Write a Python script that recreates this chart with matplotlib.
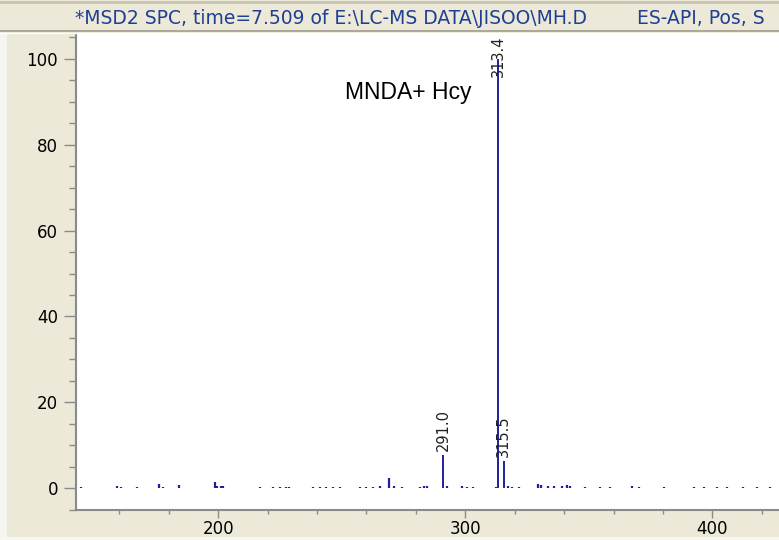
import matplotlib
matplotlib.use("Agg")
import matplotlib.pyplot as plt
from matplotlib.ticker import MultipleLocator
from matplotlib.lines import Line2D
from matplotlib.patches import Rectangle
import matplotlib.transforms as mtransforms

# ---- data ----
title_left = "*MSD2 SPC, time=7.509 of E:\\LC-MS DATA\\JISOO\\MH.D"
title_right = "ES-API, Pos, S"
annotation_text = "MNDA+ Hcy"

main_mz = [291.0, 313.4, 315.5]
main_abund = [7.7, 100.0, 6.3]
main_labels = ["291.0", "313.4", "315.5"]

noise_mz = [144.6, 158.8, 160.8, 166.9, 175.8, 177.8, 184.3, 198.5, 199.5, 201.0,
            202.0, 216.7, 222.3, 224.8, 227.6, 228.8, 238.5, 241.0, 243.8, 246.6,
            249.1, 257.2, 260.0, 262.8, 265.3, 269.3, 271.3, 274.2, 281.5, 283.1,
            284.3, 292.6, 298.5, 300.5, 303.3, 312.6, 317.4, 319.0, 321.9, 329.6,
            330.8, 333.6, 336.1, 339.0, 341.0, 342.2, 348.3, 354.4, 358.4, 367.3,
            370.2, 380.3, 392.4, 396.5, 401.7, 405.8, 412.6, 417.9, 423.2]
noise_abund = [0.3, 0.4, 0.3, 0.3, 1.0, 0.3, 0.8, 1.5, 0.4, 0.4,
               0.4, 0.3, 0.3, 0.3, 0.3, 0.3, 0.3, 0.3, 0.3, 0.3,
               0.3, 0.3, 0.3, 0.3, 0.5, 2.3, 0.6, 0.3, 0.3, 0.5,
               0.4, 0.4, 0.6, 0.3, 0.3, 0.3, 0.5, 0.3, 0.3, 0.9,
               0.8, 0.5, 0.5, 0.4, 0.7, 0.4, 0.3, 0.3, 0.3, 0.4,
               0.3, 0.3, 0.3, 0.3, 0.3, 0.3, 0.3, 0.3, 0.3]

x_range = (142.4, 427.0)
y_range = (-5.1, 105.8)

# ---- style ----
BEIGE = "#ECE9D8"
PEAK = "#1f1f9c"
GRAY = "#8a8a8a"
TITLE_BLUE = "#1f3f95"

W, H = 779, 540
fig = plt.figure(figsize=(W / 100, H / 100), dpi=100, facecolor=BEIGE)

# top title bar decorations
fig.add_artist(Line2D([0, 1], [1 - 1.5 / H, 1 - 1.5 / H], color="#c8c4b4", lw=2,
                      transform=fig.transFigure))
fig.add_artist(Line2D([0, 1], [1 - 31 / H, 1 - 31 / H], color="#a09c90", lw=1.2,
                      transform=fig.transFigure))
fig.add_artist(Line2D([0, 1], [1 - 32.5 / H, 1 - 32.5 / H], color="#ffffff", lw=1,
                      transform=fig.transFigure))
fig.add_artist(Rectangle((0, 0), 7 / W, 1 - 33 / H, transform=fig.transFigure,
                         facecolor="#f6f5f0", edgecolor="none"))
fig.add_artist(Line2D([0, 1], [2.5 / H, 2.5 / H], color="#f8f7f2", lw=2,
                      transform=fig.transFigure))

fig.text(75 / W, 1 - 18 / H, title_left, color=TITLE_BLUE, fontsize=13.5,
         family="DejaVu Sans", ha="left", va="center")
fig.text(637 / W, 1 - 18 / H, title_right, color=TITLE_BLUE, fontsize=13.5,
         family="DejaVu Sans", ha="left", va="center")

left, right, top, bottom = 76, 779, 34, 510
ax = fig.add_axes([left / W, 1 - bottom / H, (right - left) / W, (bottom - top) / H])
ax.set_facecolor("white")
ax.set_xlim(*x_range)
ax.set_ylim(*y_range)

for s in ["top", "right"]:
    ax.spines[s].set_visible(False)
for s in ["left", "bottom"]:
    ax.spines[s].set_color(GRAY)
    ax.spines[s].set_linewidth(1.5)

ax.xaxis.set_major_locator(MultipleLocator(100))
ax.xaxis.set_minor_locator(MultipleLocator(20))
ax.yaxis.set_major_locator(MultipleLocator(20))
ax.yaxis.set_minor_locator(MultipleLocator(5))
ax.tick_params(axis="y", which="major", length=9, width=1, color=GRAY,
               labelsize=12, pad=4, direction="out")
ax.tick_params(axis="y", which="minor", length=5, width=1, color=GRAY, direction="out")
ax.tick_params(axis="x", which="major", length=6, width=1, color=GRAY,
               labelsize=12, pad=1.5, direction="out")
ax.tick_params(axis="x", which="minor", length=3, width=1, color=GRAY, direction="out")
for lab in ax.get_xticklabels() + ax.get_yticklabels():
    lab.set_family("DejaVu Sans")

# peaks
ax.vlines(noise_mz, 0, noise_abund, color=PEAK, lw=1.6)
ax.vlines(main_mz, 0, main_abund, color=PEAK, lw=1.4)

# peak labels
off = mtransforms.offset_copy(ax.transData, fig=fig, x=0, y=3, units="points")
for mz, ab, lab in zip(main_mz, main_abund, main_labels):
    if ab > 90:
        ax.text(mz, 0.997, lab, transform=ax.get_xaxis_transform(), rotation=90,
                ha="center", va="top", fontsize=10.5, color="#222222",
                family="DejaVu Sans")
    else:
        ax.text(mz, ab, lab, transform=off, rotation=90, ha="center", va="bottom",
                fontsize=10.5, color="#222222", family="DejaVu Sans")

fig.text(345 / W, 1 - 92 / H, annotation_text, fontsize=16.5, color="black",
         family="Liberation Sans", ha="left", va="center")

fig.savefig("out.png", dpi=100, facecolor=BEIGE)
